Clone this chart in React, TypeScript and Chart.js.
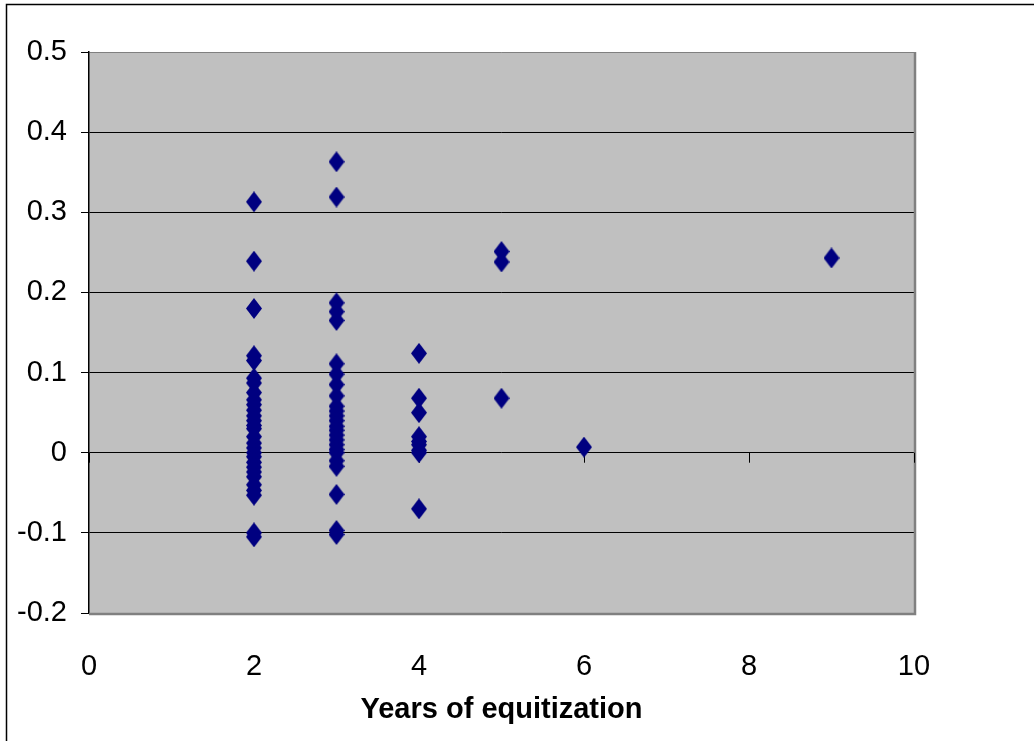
import React, { useEffect, useRef } from "react";
import { Chart, registerables } from "chart.js";

Chart.register(...registerables);

// Years of equitization (x) and the values observed for each year (y)
const years = [2, 3, 4, 5, 6, 9];
const valuesYear2 = [
  0.313, 0.239, 0.18, 0.121, 0.115, 0.093, 0.087, 0.075, 0.066, 0.06, 0.053, 0.046, 0.04, 0.034,
  0.03, 0.02, 0.012, 0.006, 0.0, -0.005, -0.012, -0.018, -0.024, -0.03, -0.04, -0.047, -0.053,
  -0.1, -0.105,
];
const valuesYear3 = [
  0.363, 0.319, 0.187, 0.176, 0.165, 0.111, 0.098, 0.085, 0.071, 0.058, 0.052, 0.046, 0.04,
  0.033, 0.028, 0.022, 0.016, 0.01, 0.004, 0.0, -0.01, -0.017, -0.052, -0.097, -0.102,
];
const valuesYear4 = [0.124, 0.068, 0.05, 0.02, 0.014, 0.01, 0.003, 0.0, -0.07];
const valuesYear5 = [0.251, 0.238, 0.068];
const valuesYear6 = [0.007];
const valuesYear9 = [0.243];
const valuesByYear = [valuesYear2, valuesYear3, valuesYear4, valuesYear5, valuesYear6, valuesYear9];

const xTicks = [0, 2, 4, 6, 8, 10];
const yTicks = [0.5, 0.4, 0.3, 0.2, 0.1, 0, -0.1, -0.2];
const xTitle = "Years of equitization";

const FONT = "'Liberation Sans Narrow', 'Arial Narrow', 'Liberation Sans', Arial, sans-serif";

function makeDiamond(): HTMLCanvasElement {
  const c = document.createElement("canvas");
  c.width = 16;
  c.height = 21;
  const g = c.getContext("2d")!;
  g.fillStyle = "#000080";
  g.beginPath();
  g.moveTo(8, 0);
  g.lineTo(16, 10.5);
  g.lineTo(8, 21);
  g.lineTo(0, 10.5);
  g.closePath();
  g.fill();
  return c;
}

const framePlugin = {
  id: "framePlugin",
  beforeDraw(chart: any) {
    const { ctx, chartArea: a, width, height } = chart;
    ctx.save();
    ctx.fillStyle = "#ffffff";
    ctx.fillRect(0, 0, width, height);
    ctx.strokeStyle = "#000";
    ctx.lineWidth = 1.5;
    ctx.beginPath();
    ctx.moveTo(6.5, height + 5);
    ctx.lineTo(6.5, 4.5);
    ctx.lineTo(width + 5, 4.5);
    ctx.stroke();
    ctx.fillStyle = "#C0C0C0";
    ctx.fillRect(a.left, a.top, a.right - a.left, a.bottom - a.top);
    ctx.restore();
  },
  beforeDatasetsDraw(chart: any) {
    const { ctx, chartArea: a, scales } = chart;
    ctx.save();
    ctx.strokeStyle = "#808080";
    ctx.lineWidth = 2.5;
    ctx.beginPath();
    ctx.moveTo(a.right + 1, a.top);
    ctx.lineTo(a.right + 1, a.bottom + 1);
    ctx.lineTo(a.left, a.bottom + 1);
    ctx.stroke();
    const y0 = scales.y.getPixelForValue(0);
    ctx.strokeStyle = "#000";
    ctx.lineWidth = 1;
    ctx.beginPath();
    scales.x.ticks.forEach((t: any) => {
      const px = Math.round(scales.x.getPixelForValue(t.value)) + 0.5;
      ctx.moveTo(px, y0);
      ctx.lineTo(px, y0 + 10);
    });
    ctx.stroke();
    ctx.restore();
  },
};

export default function App() {
  const ref = useRef<HTMLCanvasElement>(null);

  useEffect(() => {
    if (!ref.current) return;
    const diamond = makeDiamond();
    const points: { x: number; y: number }[] = [];
    years.forEach((yr, i) => valuesByYear[i].forEach((v) => points.push({ x: yr, y: v })));

    const chart = new Chart(ref.current, {
      type: "scatter",
      data: {
        datasets: [
          {
            data: points,
            pointStyle: diamond as any,
            pointRadius: 8,
            backgroundColor: "#000080",
            borderColor: "#000080",
          },
        ],
      },
      options: {
        animation: false,
        responsive: false,
        layout: { padding: { top: 52, right: 120, bottom: 0, left: 0 } },
        plugins: { legend: { display: false }, tooltip: { enabled: false } },
        scales: {
          x: {
            type: "linear",
            min: 0,
            max: 10,
            afterBuildTicks: (s: any) => {
              s.ticks = xTicks.map((v) => ({ value: v }));
            },
            ticks: {
              color: "#000",
              font: { family: FONT, size: 29 },
              padding: 37,
              maxRotation: 0,
              autoSkip: false,
            },
            grid: { display: false, drawTicks: false },
            border: { display: false },
            title: {
              display: true,
              text: xTitle,
              color: "#000",
              font: { family: FONT, size: 29, weight: "bold" },
              padding: { top: 0, bottom: 14 },
            },
            afterFit: (s: any) => {
              s.height = 741 - 613;
            },
          },
          y: {
            type: "linear",
            min: -0.2,
            max: 0.5,
            afterBuildTicks: (s: any) => {
              s.ticks = yTicks.map((v) => ({ value: v }));
            },
            ticks: {
              color: "#000",
              font: { family: FONT, size: 29 },
              padding: 14,
              callback: (v: any) => {
                const r = Math.round(Number(v) * 10) / 10;
                return r === 0 ? "0" : String(r);
              },
            },
            grid: {
              color: (c: any) =>
                c.tick && (Math.abs(c.tick.value - 0.5) < 1e-9 || Math.abs(c.tick.value + 0.2) < 1e-9)
                  ? "#808080"
                  : "#000",
              tickColor: "#000",
              tickLength: 8,
              lineWidth: 1,
            },
            border: { color: "#000", width: 1.5 },
            afterFit: (s: any) => {
              s.width = 89;
            },
          },
        },
      },
      plugins: [framePlugin],
    });
    return () => chart.destroy();
  }, []);

  return (
    <div style={{ position: "absolute", left: 0, top: 0, width: 1034, height: 741 }}>
      <canvas ref={ref} width={1034} height={741} />
    </div>
  );
}
